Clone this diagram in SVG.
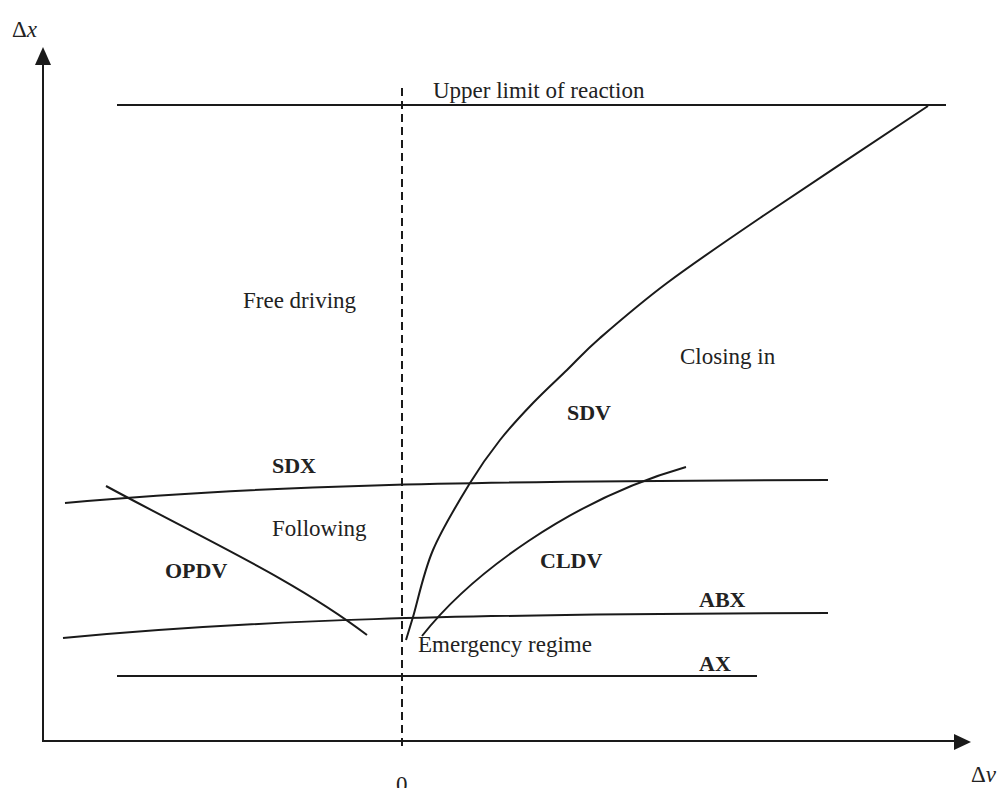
<svg xmlns="http://www.w3.org/2000/svg" width="1003" height="788" viewBox="0 0 1003 788">
<style>
.t{font-family:"Liberation Serif","Times New Roman",serif;font-size:23px;fill:#222}
.b{font-weight:bold;font-size:22px}
.c{fill:none;stroke:#1a1a1a;stroke-width:2}
.ah{fill:#1a1a1a}
</style>
<rect width="1003" height="788" fill="#fff"/>
<g id="connectors">
<path class="c" d="M43,742 L43,64"/>
<polygon class="ah" points="43,47 35,65 51,65"/>
<path class="c" d="M43,741 L955,741"/>
<polygon class="ah" points="971,742 954,734 954,750"/>
<path class="c" d="M402,88 L402,746" stroke-dasharray="8,5"/>
<path class="c" d="M117,105 L946,105"/>
<path class="c" d="M406,640 C407.2,636.2 408.5,632 413,617 C417.5,602 423.5,572.3 433,550 C442.5,527.7 458.8,501.3 470,483 C481.2,464.7 489.5,453.3 500,440 C510.5,426.7 521.8,414.7 533,403 C544.2,391.3 555.8,380.8 567,370 C578.2,359.2 583.3,352.5 600,338 C616.7,323.5 640.3,303 667,283 C693.7,263 716.5,247.5 760,218 C803.5,188.5 900,124.7 928,106"/>
<path class="c" d="M65,503 C250,486 450,481 828,480"/>
<path class="c" d="M106,486 C200,537 295,580 367,635"/>
<path class="c" d="M422,636 C470,575 570,500 686,467"/>
<path class="c" d="M63,638 C250,620 450,614 828,613"/>
<path class="c" d="M117,676 L757,676"/>
</g>
<g id="axis-labels">
<text class="t" x="12" y="37">Δ<tspan font-style="italic">x</tspan></text>
<text class="t" x="971" y="782">Δ<tspan font-style="italic">v</tspan></text>
<text class="t" x="396" y="792">0</text>
</g>
<g id="upper"><text class="t" x="433" y="98">Upper limit of reaction</text></g>
<g id="free"><text class="t" x="243" y="308">Free driving</text></g>
<g id="closing"><text class="t" x="680" y="364">Closing in</text></g>
<g id="sdv"><text class="t b" x="567" y="420">SDV</text></g>
<g id="sdx"><text class="t b" x="272" y="473">SDX</text></g>
<g id="following"><text class="t" x="272" y="536">Following</text></g>
<g id="opdv"><text class="t b" x="165" y="578">OPDV</text></g>
<g id="cldv"><text class="t b" x="540" y="568">CLDV</text></g>
<g id="abx"><text class="t b" x="699" y="607">ABX</text></g>
<g id="emergency"><text class="t" x="418" y="652">Emergency regime</text></g>
<g id="ax"><text class="t b" x="699" y="671">AX</text></g>
</svg>
